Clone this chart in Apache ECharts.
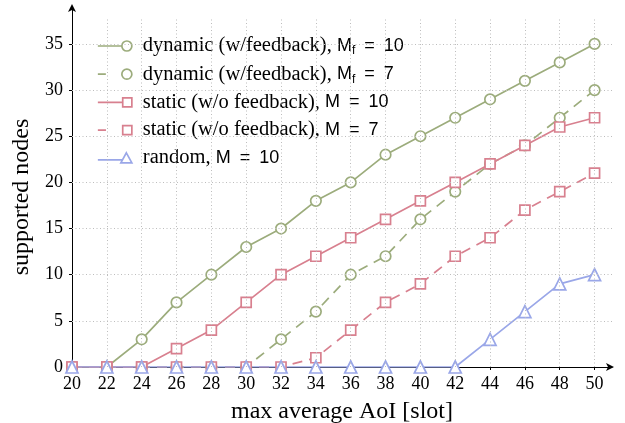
<!DOCTYPE html>
<html><head><meta charset="utf-8">
<script src="https://cdn.jsdelivr.net/npm/echarts@6/dist/echarts.min.js"></script>
<style>html,body{margin:0;padding:0;background:#fff}#c{width:625px;height:423px}</style>
</head><body><div id="c"></div>
<script>
const aoi = [20,22,24,26,28,30,32,34,36,38,40,42,44,46,48,50];
const dynamicMf10 = [0,0,3,7,10,13,15,18,20,23,25,27,29,31,33,35];
const dynamicMf7  = [0,0,0,0,0,0,3,6,10,12,16,19,22,24,27,30];
const staticM10   = [0,0,0,2,4,7,10,12,14,16,18,20,22,24,26,27];
const staticM7    = [0,0,0,0,0,0,0,1,4,7,9,12,14,17,19,21];
const randomM10   = [0,0,0,0,0,0,0,0,0,0,0,0,3,6,9,10];
const xTickLabels = [20,22,24,26,28,30,32,34,36,38,40,42,44,46,48,50];
const yTickLabels = [0,5,10,15,20,25,30,35];
const seriesNames = ['dynamic (w/feedback), Mf = 10','dynamic (w/feedback), Mf = 7','static (w/o feedback), M = 10','static (w/o feedback), M = 7','random, M = 10'];
const legendRich = [
  '{t|dynamic (w/feedback), }{m|M}{s|f}{m|\u2002=\u200210}',
  '{t|dynamic (w/feedback), }{m|M}{s|f}{m|\u2002=\u20027}',
  '{t|static (w/o feedback), }{m|M\u2002=\u200210}',
  '{t|static (w/o feedback), }{m|M\u2002=\u20027}',
  '{t|random, }{m|M\u2002=\u200210}'
];

const GREEN = '#9cac7c', RED = '#d8808f', BLUE = '#9aa7e8';
const X_MAX = 51, Y_MAX = 39, Y_GRID_TOP = 37.7;
const SERIF = 'Liberation Serif';

function pairs(ys){ return aoi.map((x,i)=>[x, ys[i]]); }

const gridLines = [];
xTickLabels.slice(1).forEach(x => gridLines.push([{coord:[x,0]},{coord:[x,Y_GRID_TOP]}]));
yTickLabels.slice(1).forEach(y => gridLines.push([{coord:[20,y]},{coord:[X_MAX,y]}]));

const icons = {
  circleSolid: 'path://M0 5H24M34 5A5 5 0 1 1 24 5A5 5 0 1 1 34 5Z',
  circleDash:  'path://M0 5H8M34 5A5 5 0 1 1 24 5A5 5 0 1 1 34 5Z',
  squareSolid: 'path://M0 5H24.5M24.5 0.5H33.5V9.5H24.5Z',
  squareDash:  'path://M0 5H8M24.5 0.5H33.5V9.5H24.5Z',
  triSolid:    'path://M0 7H25M28.5 0L34 10H23Z'
};

function mkSeries(name, ys, color, symbol, size, dashed){
  return {
    name, type:'line', data: pairs(ys), symbol, symbolSize: size, showSymbol:true,
    z: 3,
    lineStyle:{color, width:1.7, type: dashed ? [10,7] : 'solid'},
    itemStyle:{color:'#fff', borderColor:color, borderWidth:1.7},
    emphasis:{disabled:true}
  };
}

const chart = echarts.init(document.getElementById('c'), null, {renderer:'canvas'});
chart.setOption({
  animation:false,
  backgroundColor:'#fff',
  grid:{left:72, right:13, top:7, bottom:56, containLabel:false, outerBoundsMode:'none'},
  xAxis:{
    type:'value', min:20, max:X_MAX, interval:2,
    axisLine:{show:true, lineStyle:{color:'#000', width:1}, symbol:['none','arrow'], symbolSize:[6,8], symbolOffset:[0,2]},
    axisTick:{show:true, inside:false, length:3, customValues:xTickLabels, lineStyle:{color:'#000'}},
    axisLabel:{customValues:xTickLabels, formatter:v => v > 50 ? '' : String(v), fontFamily:SERIF, fontSize:18, color:'#000', margin:8},
    splitLine:{show:false},
    name:'max average AoI [slot]', nameLocation:'middle', nameGap:33,
    nameTextStyle:{fontFamily:SERIF, fontSize:24, color:'#000'}
  },
  yAxis:{
    type:'value', min:0, max:Y_MAX, interval:5,
    axisLine:{show:true, lineStyle:{color:'#000', width:1}, symbol:['none','arrow'], symbolSize:[6,8], symbolOffset:[0,3]},
    axisTick:{show:true, inside:false, length:3, customValues:yTickLabels, lineStyle:{color:'#000'}},
    axisLabel:{customValues:yTickLabels, formatter:v => v > 35 ? '' : String(v), fontFamily:SERIF, fontSize:18, color:'#000', margin:9},
    splitLine:{show:false},
    name:'supported nodes', nameLocation:'middle', nameGap:38,
    nameTextStyle:{fontFamily:SERIF, fontSize:24, color:'#000', padding:[0,20,0,0]}
  },
  legend:{
    orient:'vertical', left:97, top:35.5, padding:0, itemWidth:34, itemHeight:10, itemGap:6.7,
    backgroundColor:'transparent', borderWidth:0, selectedMode:false,
    formatter: name => legendRich[seriesNames.indexOf(name)],
    textStyle:{
      padding:[0,0,0,6],
      rich:{
        t:{fontFamily:SERIF, fontSize:20.5, lineHeight:22, color:'#000'},
        m:{fontFamily:'Liberation Sans', fontSize:18, lineHeight:22, color:'#000'},
        s:{fontFamily:'Liberation Sans', fontSize:12, lineHeight:12, verticalAlign:'bottom', color:'#000'}
      }
    },
    data:[
      {name:seriesNames[0], icon:icons.circleSolid, itemStyle:{color:'#fff', borderColor:GREEN, borderWidth:1.7}},
      {name:seriesNames[1], icon:icons.circleDash,  itemStyle:{color:'#fff', borderColor:GREEN, borderWidth:1.7}},
      {name:seriesNames[2], icon:icons.squareSolid, itemStyle:{color:'#fff', borderColor:RED, borderWidth:1.7}},
      {name:seriesNames[3], icon:icons.squareDash,  itemStyle:{color:'#fff', borderColor:RED, borderWidth:1.7}},
      {name:seriesNames[4], icon:icons.triSolid,    itemStyle:{color:'#fff', borderColor:BLUE, borderWidth:1.7}}
    ]
  },
  series:[
    {
      name:'grid', type:'line', data:[], z:1, silent:true,
      markLine:{silent:true, symbol:['none','none'], label:{show:false}, animation:false,
        lineStyle:{color:'#bdbdbd', width:1, type:[1,2.5]}, emphasis:{disabled:true}, data:gridLines}
    },
    mkSeries(seriesNames[0], dynamicMf10, GREEN, 'circle', 10.5, false),
    mkSeries(seriesNames[1], dynamicMf7, GREEN, 'circle', 10.5, true),
    mkSeries(seriesNames[2], staticM10, RED, 'rect', 10, false),
    mkSeries(seriesNames[3], staticM7, RED, 'rect', 10, true),
    mkSeries(seriesNames[4], randomM10, BLUE, 'triangle', 12, false)
  ]
});
</script>
</body></html>
